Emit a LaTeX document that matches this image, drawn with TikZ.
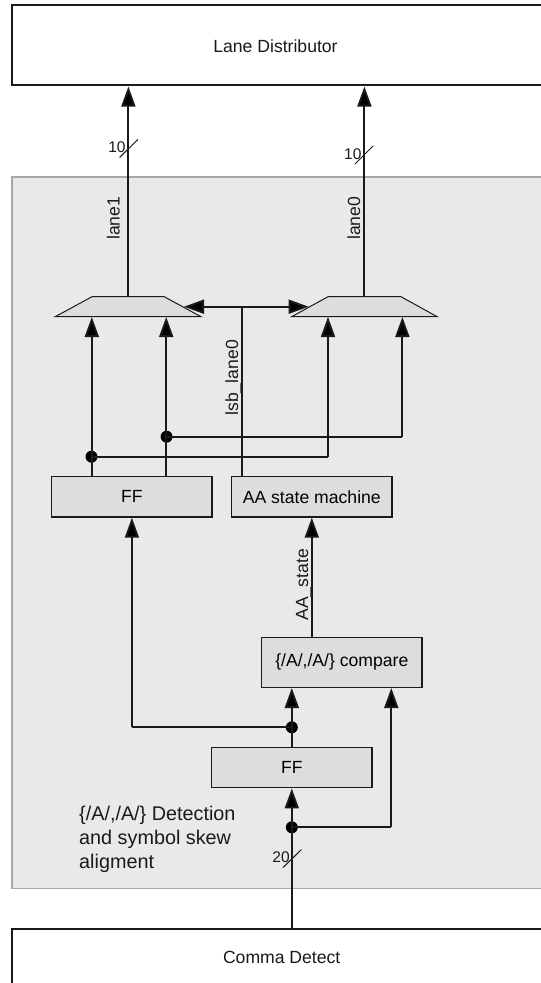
\documentclass[tikz,border=0pt]{standalone}
\usepackage{fontspec}
\setmainfont{Liberation Sans}
\usetikzlibrary{arrows.meta}
\definecolor{panelfill}{HTML}{E9E9E9}
\definecolor{panelline}{HTML}{A8A8A8}
\definecolor{blockfill}{HTML}{DDDDDD}
\definecolor{ink}{HTML}{1A1A1A}
\tikzset{
  x=1pt,y=-1pt,
  wire/.style={draw=ink,line width=1.9pt},
  arrowwire/.style={wire,-{Triangle[length=20pt,width=14pt,fill=black]}},
  blockbox/.style={draw=ink,line width=1.5pt,fill=blockfill,minimum width=160.5pt,inner sep=0pt,font=\fontsize{17.6}{20}\selectfont},
  outerbox/.style={draw=ink,line width=1.6pt,fill=white,inner sep=0pt},
  dotnode/.style={circle,fill=black,minimum size=12pt,inner sep=0pt},
  lab/.style={font=\fontsize{17.6}{20}\selectfont,text=ink,inner sep=0pt},
  vlab/.style={lab,rotate=90,anchor=base west},
  buslab/.style={font=\fontsize{15.5}{18}\selectfont,text=ink,inner sep=0pt},
  slash/.style={draw=ink,line width=1pt},
  muxshape/.style={draw=ink,line width=1pt,fill=blockfill}
}
\begin{document}
\begin{tikzpicture}
\useasboundingbox (0,0) rectangle (541,983);
\fill[white] (0,0) rectangle (541,983);
% panel
\node[draw=panelline,line width=1.4pt,fill=panelfill,minimum width=540pt,minimum height=711.7pt,inner sep=0pt,anchor=north west] (panel) at (11.4,176.3) {};
% outer blocks
\node[outerbox,minimum width=540pt,minimum height=80.2pt,anchor=south west] (lane) at (11.4,85.7) {};
\node[lab] (lanetxt) at (275.5,46) {Lane Distributor};
\node[outerbox,minimum width=540pt,minimum height=80pt,anchor=north west] (comma) at (11.4,928) {};
\node[lab] (commatxt) at (281.7,957) {Comma Detect};
% blocks
\node[blockbox,minimum height=40.3pt] (ffa) at (131.9,496.8) {FF};
\node[blockbox,minimum height=40.3pt] (aa) at (311.8,496.8) {AA state machine};
\node[blockbox,minimum height=50pt] (cmp) at (341.8,662.3) {\{/A/,/A/\} compare};
\node[blockbox,minimum height=40pt] (ffb) at (291.8,767.7) {FF};
% muxes
\draw[muxshape] (55.2,316.7) -- (92,296.7) -- (164.2,296.7) -- (201,316.7) -- cycle;
\draw[muxshape] (291.6,316.7) -- (328,296.7) -- (401,296.7) -- (437.2,316.7) -- cycle;
\coordinate (m1top) at (128.4,296.7);
\coordinate (m0top) at (364.4,296.7);
\coordinate (m1a) at (91.8,317);
\coordinate (m1b) at (166.2,317);
\coordinate (m0a) at (328,317);
\coordinate (m0b) at (402.4,317);
\coordinate (m1side) at (184,306.7);
\coordinate (m0side) at (308.6,306.7);
\coordinate (lsbj) at (241.9,306.7);
% output wires
\draw[arrowwire] (m1top) -- (128.4,86.5);
\draw[arrowwire] (m0top) -- (364.4,86.5);
\draw[slash] (119.6,157.5) -- (137.8,139.5);
\draw[slash] (355,164) -- (373,146);
\node[buslab] (n10a) at (117,147.5) {10};
\node[buslab] (n10b) at (352.8,154) {10};
\node[vlab] (lane1) at (119.7,240) {lane1};
\node[vlab] (lane0) at (360,240) {lane0};
% lsb
\draw[wire] (lsbj) -- (241.9,476.7);
\draw[arrowwire] (lsbj) -- (m1side);
\draw[arrowwire] (lsbj) -- (m0side);
\node[vlab] (lsb) at (238,415.7) {lsb\_lane0};
% FF outputs
\node[dotnode] (d1) at (91.5,456.7) {};
\node[dotnode] (d2) at (166.6,436.7) {};
\draw[wire] (91.8,476.7) -- (91.8,456.7);
\draw[arrowwire] (91.8,456.7) -- (m1a);
\draw[wire] (166.2,476.7) -- (166.2,436.7);
\draw[arrowwire] (166.2,436.7) -- (m1b);
\draw[wire] (d1.center) -- (328,456.7);
\draw[arrowwire] (328,456.7) -- (m0a);
\draw[wire] (d2.center) -- (402.4,436.7);
\draw[arrowwire] (402.4,436.7) -- (m0b);
% compare to AA
\draw[arrowwire] (cmp.north -| aa.south) -- (aa.south);
\node[vlab] (aast) at (308,620.7) {AA\_state};
% FF2 to compare
\node[dotnode] (d3) at (291.8,727.3) {};
\node[dotnode] (d4) at (291.8,827.3) {};
\draw[wire] (ffb.north) -- (d3.center);
\draw[arrowwire] (d3.center) -- (291.8,688);
\draw[wire] (d3.center) -- (131.9,727.3);
\draw[arrowwire] (131.9,727.3) -- (ffa.south);
\draw[wire] (comma.north -| d4) -- (d4.center);
\draw[arrowwire] (d4.center) -- (ffb.south);
\draw[wire] (d4.center) -- (391.3,827.3);
\draw[arrowwire] (391.3,827.3) -- (391.3,688);
\draw[slash] (283,867.5) -- (301.5,849.5);
\node[buslab] (n20) at (281,857) {20};
% caption
\node[lab,anchor=north west,align=left,font=\fontsize{19.8}{24}\selectfont] (cap) at (79,805.5) {\{/A/,/A/\} Detection\\and symbol skew\\aligment};
\end{tikzpicture}
\end{document}
